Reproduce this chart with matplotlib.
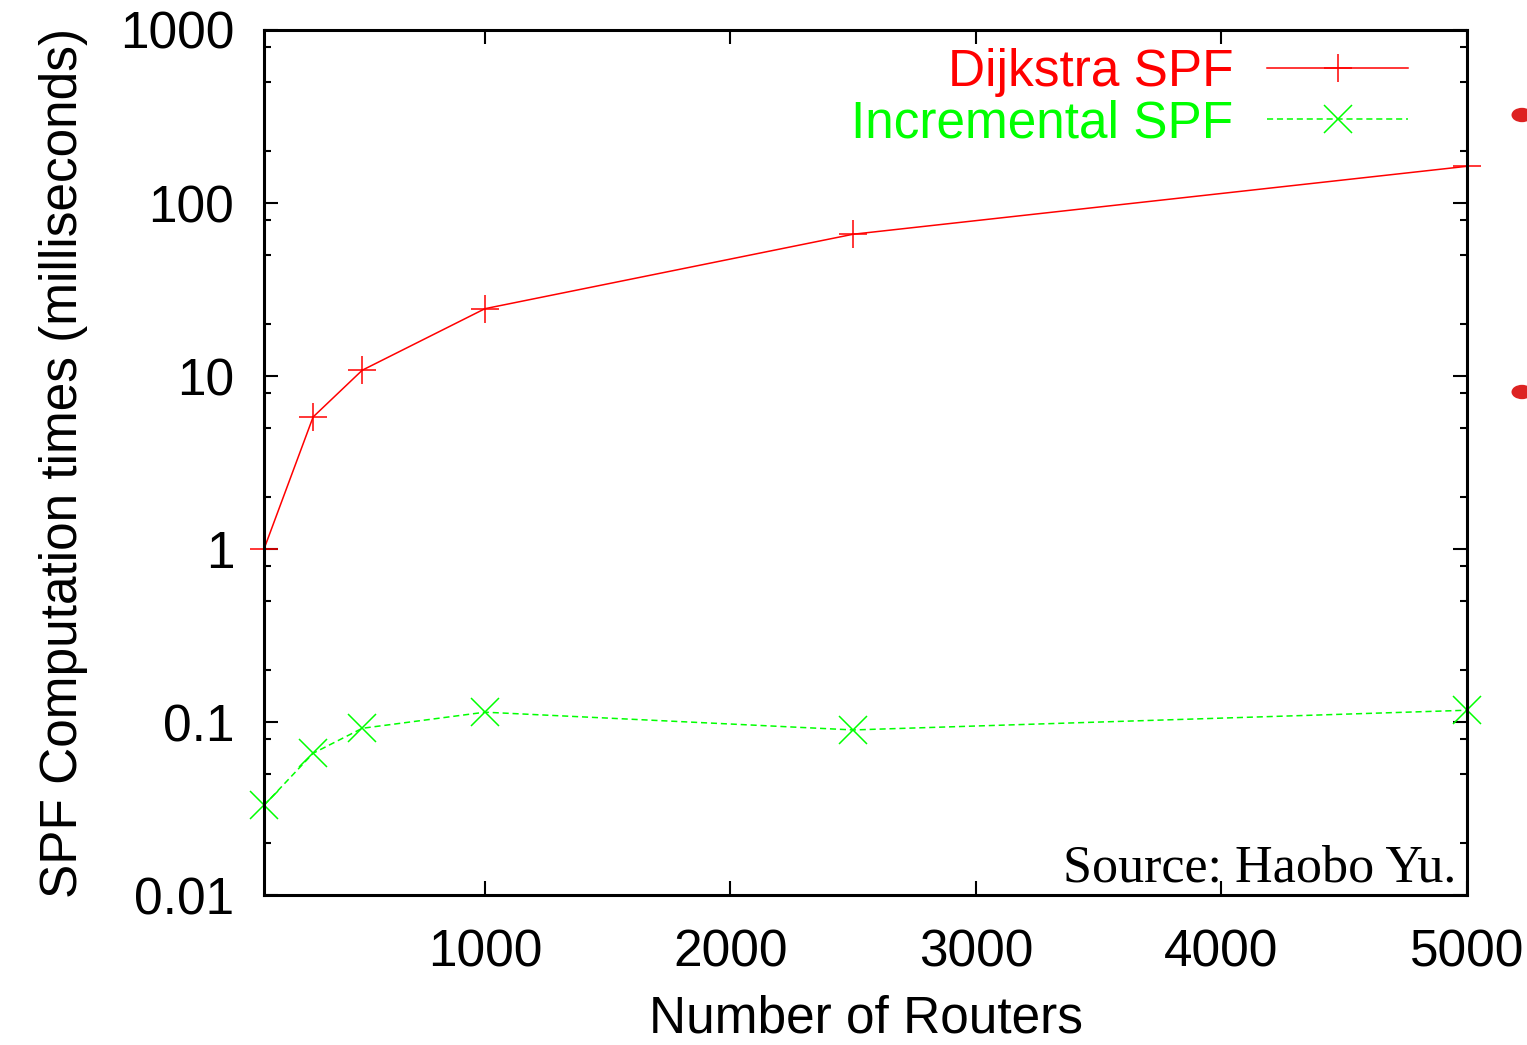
import matplotlib.pyplot as plt
from matplotlib.ticker import LogLocator, FixedLocator, NullFormatter
from matplotlib.patches import Circle

# number of routers in each test topology
routers = [100, 300, 500, 1000, 2500, 5000]
# SPF run times in milliseconds
dijkstra_ms = [1.0, 5.8, 10.8, 24.5, 66.0, 163.0]
incremental_ms = [0.033, 0.066, 0.092, 0.114, 0.090, 0.117]

x_ticks = [1000, 2000, 3000, 4000, 5000]
y_ticks = [0.01, 0.1, 1, 10, 100, 1000]
y_tick_labels = ['0.01', '0.1', '1', '10', '100', '1000']

plt.rcParams['font.family'] = ['Liberation Sans', 'DejaVu Sans']

fig = plt.figure(figsize=(15.27, 10.45), dpi=100)
ax = fig.add_axes([0.1729, 0.1435, 0.7878, 0.8278])

ax.plot(routers, dijkstra_ms, color='#ff0000', lw=1.1, marker='+',
        ms=20, mew=1.1, label='Dijkstra SPF', clip_on=False)
ax.plot(routers, incremental_ms, color='#00ff00', lw=1.1, ls=(0, (4, 2.5)),
        marker='x', ms=20, mew=1.1, label='Incremental SPF', clip_on=False)

ax.set_yscale('log')
ax.set_xlim(100, 5000)
ax.set_ylim(0.01, 1000)

ax.xaxis.set_major_locator(FixedLocator(x_ticks))
ax.set_yticks(y_ticks)
ax.set_yticklabels(y_tick_labels)
ax.yaxis.set_minor_locator(LogLocator(base=10, subs=[2, 5, 8], numticks=20))
ax.yaxis.set_minor_formatter(NullFormatter())

ax.tick_params(which='both', direction='in', top=True, right=True,
               labelsize=37, width=1.5, colors='black')
ax.tick_params(axis='x', which='major', length=10, pad=24)
ax.tick_params(axis='y', which='major', length=10, pad=21.5)
ax.tick_params(which='minor', length=5)
for s in ax.spines.values():
    s.set_linewidth(2.2)

ax.set_xlabel('Number of Routers', fontsize=37, labelpad=12)
ax.set_ylabel('SPF Computation times (milliseconds)', fontsize=37, labelpad=23)

leg = ax.legend(loc='upper right', fontsize=37, frameon=False, markerfirst=False,
                handlelength=2.75, handletextpad=0.65, borderaxespad=0.3,
                labelspacing=0.05, bbox_to_anchor=(0.981, 1.021))
for txt, c in zip(leg.get_texts(), ['#ff0000', '#00ff00']):
    txt.set_color(c)

ax.text(0.991, 0.003, 'Source: Haobo Yu.', transform=ax.transAxes,
        ha='right', va='bottom', fontsize=37.5, family='Liberation Serif')

# glossy red bullets peeking in at the right edge
for yy in [1 - 115 / 1045, 1 - 392 / 1045]:
    fig.patches.append(Circle((1522 / 1527, yy), 10.5 / 1527, transform=fig.transFigure,
                              color='#dd2222', ec='none'))

fig.savefig('out.png', dpi=100)
